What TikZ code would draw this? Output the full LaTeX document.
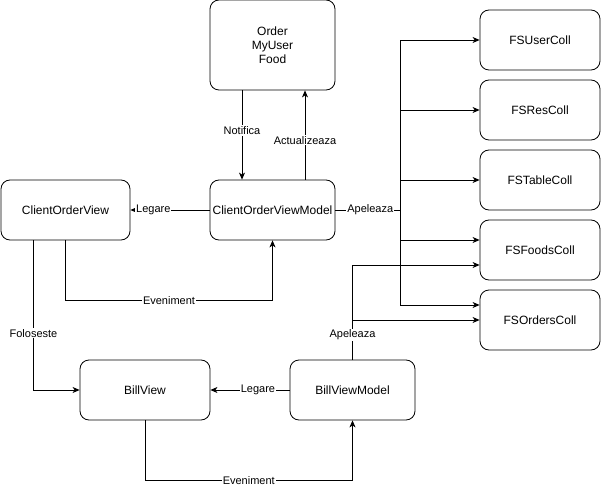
\documentclass[tikz,border=0pt]{standalone}
\usepackage{fontspec}
\setmainfont{Liberation Sans}
\usetikzlibrary{arrows.meta}
\begin{document}
\begin{tikzpicture}[x=1pt,y=-1pt,line width=0.8pt,
  >={Stealth[length=7pt,width=6pt,inset=2pt]},
  box/.style={draw,rounded corners=9pt,minimum width=125pt,minimum height=60pt,
    inner sep=0pt,font=\fontsize{12}{14}\selectfont,align=center},
  fsbox/.style={box,minimum width=120pt},
  lbl/.style={fill=white,inner sep=1pt,font=\fontsize{11}{13}\selectfont}]
\useasboundingbox (0,0) rectangle (602,489);
\node[box,minimum height=90pt] (model) at (272.5,45) {Order\\MyUser\\Food};
\node[box] (covm) at (272.5,210) {ClientOrderViewModel};
\node[box,minimum width=129pt] (cov) at (65.5,210) {ClientOrderView};
\node[box,minimum width=130pt] (bill) at (145,390) {BillView};
\node[box] (bvm) at (352.5,390) {BillViewModel};
\foreach \name/\txt/\y in {fsu/FSUserColl/40,fsr/FSResColl/110,fst/FSTableColl/180,fsf/FSFoodsColl/250,fso/FSOrdersColl/320}
\node[fsbox] (\name) at (540,\y) {\txt};
\coordinate (bus) at (400,210);
% model <-> viewmodel
\draw[->] ([xshift=-30.5pt]model.south) -- node[lbl,pos=0.45] (notif) {Notifica} ([xshift=-30.5pt]covm.north);
\draw[->] ([xshift=32.5pt]covm.north) -- node[lbl,pos=0.44] (actual) {Actualizeaza} ([xshift=32.5pt]model.south);
% client order
\draw[->] (covm.west) -- node[lbl,pos=0.71] (leg1) {Legare} (cov.east);
\draw[->] (cov.south) -- ++(0,60) -| node[lbl,pos=0.25] (ev1) {Eveniment} (covm.south);
\draw[->] ([xshift=-32pt]cov.south) |- node[lbl,pos=0.31] (fol) {Foloseste} (bill.west);
% bill
\draw[->] (bvm.west) -- node[lbl,pos=0.4] (leg2) {Legare} (bill.east);
\draw[->] (bill.south) -- ++(0,60) -| node[lbl,pos=0.25] (ev2) {Eveniment} (bvm.south);
% calls to collections
\draw (covm.east) -- node[lbl,pos=0.54] (ap1) {Apeleaza} (bus);
\draw[->] (bus) |- (fsu.west);
\draw[->] (bus) |- (fsr.west);
\draw[->] (bus) |- (fst.west);
\draw[->] (bus) |- ([yshift=10pt]fsf.west);
\draw[->] (bus) |- ([yshift=15pt]fso.west);
\draw[->] (bvm.north) |- node[lbl,pos=0.13] (ap2) {Apeleaza} ([yshift=-15pt]fsf.west);
\draw[->] (bvm.north |- fso.west) -- (fso.west);
\end{tikzpicture}
\end{document}
